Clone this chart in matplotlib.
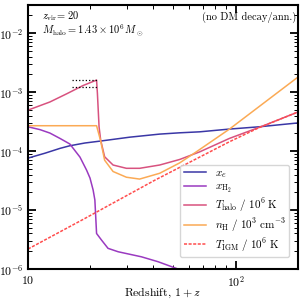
import matplotlib
matplotlib.use('Agg')
import matplotlib.pyplot as plt
from matplotlib.ticker import FixedLocator, LogLocator, NullFormatter

plt.rcParams['font.family'] = 'serif'
plt.rcParams['font.serif'] = ['cmr10']
plt.rcParams['mathtext.fontset'] = 'cm'
plt.rcParams['axes.formatter.use_mathtext'] = True

# 1+z values and curves
z_xe = [10, 12.07, 14.25, 15.9, 18.8, 22.4, 30.9, 43.1, 53.8, 67.2, 93.5, 130, 200]
xe = [7.6e-5, 9.2e-5, 1.11e-4, 1.23e-4, 1.37e-4, 1.48e-4, 1.72e-4, 1.94e-4,
      2.04e-4, 2.12e-4, 2.36e-4, 2.58e-4, 3.0e-4]

z_h2 = [10, 11.42, 12.75, 14.25, 15.9, 17.8, 19.15, 19.9, 20.6, 21.0, 21.4, 22.6,
        24.3, 27.2, 35.2, 42.3, 52.8, 60]
xh2 = [2.58e-4, 2.31e-4, 2.02e-4, 1.64e-4, 1.32e-4, 7.9e-5, 4.76e-5, 3.48e-5,
       2.18e-5, 1.48e-5, 4.0e-6, 3.1e-6, 2.24e-6, 1.96e-6, 1.61e-6, 1.33e-6,
       1.0e-6, 8.5e-7]

z_th = [10, 12.75, 15.4, 18.4, 21.4, 21.6, 22.0, 22.4, 23.4, 25.7, 29.8, 34.5,
        43.1, 53.8, 67.2, 93.5, 134.9, 200]
t_halo = [4.95e-4, 6.8e-4, 9.4e-4, 1.29e-3, 1.6e-3, 9.5e-4, 2.58e-4, 1.53e-4,
          8.0e-5, 5.8e-5, 5.1e-5, 5.1e-5, 5.8e-5, 7.2e-5, 9.7e-5, 1.64e-4,
          2.65e-4, 4.6e-4]

z_nh = [10, 21.4, 22.4, 23.4, 25.7, 29.8, 34.5, 43.1, 53.8, 64.7, 93.5, 200]
n_h = [2.69e-4, 2.69e-4, 1.48e-4, 7.0e-5, 4.5e-5, 3.6e-5, 3.35e-5, 4.2e-5,
       6.3e-5, 9.7e-5, 2.36e-4, 1.8e-3]

z_igm = [10, 18.8, 40.8, 93.5, 130, 200]
t_igm = [2.18e-6, 7.2e-6, 3.2e-5, 1.44e-4, 2.5e-4, 4.6e-4]

# dotted reference levels near the virialization peak
ref_levels = [1.6e-3, 1.2e-3]
ref_z = [16.3, 21.4]

fig = plt.figure(figsize=(3.05, 3.04), dpi=100)
ax = fig.add_axes([28 / 305, 35 / 304, 270 / 305, 264 / 304])

lw = 1.1
ax.plot(z_xe, xe, color='#3a37a6', lw=lw, label=r'$x_e$')
ax.plot(z_h2, xh2, color='#9a3ac0', lw=lw, label=r'$x_{\rm H_2}$')
ax.plot(z_th, t_halo, color='#d8527f', lw=lw, label=r'$T_{\rm halo}\ /\ 10^6\ {\rm K}$')
ax.plot(z_nh, n_h, color='#fbaa55', lw=lw, label=r'$n_{\rm H}\ /\ 10^3\ {\rm cm}^{-3}$')
ax.plot(z_igm, t_igm, color='#ff4d4d', lw=lw, ls='--', dashes=(2, 1),
        label=r'$T_{\rm IGM}\ /\ 10^6\ {\rm K}$')
ax.hlines(ref_levels, ref_z[0], ref_z[1], colors='k', linestyles=':', lw=0.9)

ax.set_xscale('log')
ax.set_yscale('log')
ax.set_xlim(10, 200)
ax.set_ylim(1e-6, 3e-2)

ax.xaxis.set_major_locator(FixedLocator([10, 100]))
ax.set_xticklabels([r'$10$', r'$10^{2}$'])
ax.xaxis.set_minor_locator(LogLocator(base=10, subs=range(2, 10)))
ax.xaxis.set_minor_formatter(NullFormatter())
ax.yaxis.set_major_locator(FixedLocator([1e-6, 1e-5, 1e-4, 1e-3, 1e-2]))
ax.set_yticklabels([r'$10^{-6}$', r'$10^{-5}$', r'$10^{-4}$', r'$10^{-3}$', r'$10^{-2}$'])
ax.yaxis.set_minor_locator(LogLocator(base=10, subs=range(2, 10)))
ax.yaxis.set_minor_formatter(NullFormatter())

ax.tick_params(which='both', direction='in', top=True, right=True, labelsize=8.5)
ax.tick_params(which='major', length=6, width=1.3)
ax.tick_params(which='minor', length=3, width=0.7)
for s in ax.spines.values():
    s.set_linewidth(1.5)

ax.set_xlabel(r'Redshift, $1+z$', fontsize=8.5)
ax.xaxis.set_label_coords(0.5, -0.062)

ax.text(0.052, 0.958, r'$z_{\rm vir}$= 20', transform=ax.transAxes,
        fontsize=7.5, va='center', ha='left')
ax.text(0.052, 0.906, r'$M_{\rm halo} = 1.43\times 10^6\,M_\odot$', transform=ax.transAxes,
        fontsize=7.5, va='center', ha='left')
ax.text(0.993, 0.955, '(no DM decay/ann.)', transform=ax.transAxes,
        fontsize=7.5, va='center', ha='right')

ax.legend(loc='lower right', bbox_to_anchor=(0.967, 0.045), borderaxespad=0,
          fontsize=8, handlelength=2.0, labelspacing=0.18, borderpad=0.3)

fig.savefig('out.png', dpi=100)
